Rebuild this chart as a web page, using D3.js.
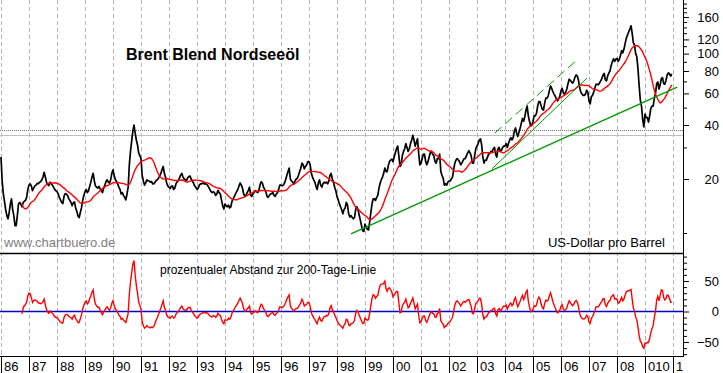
<!DOCTYPE html>
<html>
<head>
<meta charset="utf-8">
<script src="https://cdn.jsdelivr.net/npm/d3@7"></script>
<style>
  body { margin: 0; background: #fff; }
  svg { display: block; font-family: "Liberation Sans", Arial, sans-serif; }
</style>
</head>
<body>
<div id="chart"></div>
<script>
// Brent, US$ per barrel, two readings per month (1st / 2nd half)
const p86 = [26.5, 19.5, 16.5, 15, 13.5, 12.5, 12, 13, 14.5, 15.5, 13.5, 12.5, 11, 11, 12.5, 14.5, 14.8, 14.5, 14, 14.8, 15, 15.2, 15.8, 17.5];
const p87 = [18.5, 18.8, 18.3, 17.2, 17.8, 18.3, 18.5, 18.9, 18.8, 19.2, 19.3, 19.8, 20.5, 21.8, 20.5, 19.2, 18.6, 18.4, 19.2, 18.8, 18.5, 18, 17.5, 17.2];
const p88 = [17, 16.5, 15.8, 15.3, 14.8, 14.6, 16, 16.6, 16.5, 16.2, 15.6, 15.2, 14.8, 14.2, 14.8, 14.9, 13.8, 13.2, 12.4, 12.2, 13, 13.8, 15.2, 16.2];
const p89 = [17, 17.5, 16.8, 17.2, 18.2, 19.2, 20.5, 21.5, 19.5, 18.3, 18, 17.8, 18.2, 17.6, 17.2, 16.8, 17.8, 18.5, 19.3, 19.8, 19.2, 19, 19.8, 21.5];
const p90 = [22.5, 21, 19.8, 19.4, 18.8, 18, 17.5, 16.5, 16.8, 16.2, 15.8, 15.3, 16.5, 18, 24, 28.5, 32.5, 37, 40, 36, 33, 31, 28, 27];
const p91 = [26, 21, 19.5, 18.5, 19, 19.8, 19.5, 19.5, 19.2, 19.4, 18.8, 18.8, 19.2, 19.6, 19.8, 20.2, 20.8, 21.5, 22.5, 23.5, 21.5, 20.5, 19, 18.3];
const p92 = [18, 17.7, 18.2, 18.3, 17.5, 17.8, 18.8, 19.3, 19.6, 20.3, 21, 21.5, 20.5, 20, 19.8, 19.6, 20.3, 20.6, 20.8, 20, 19.5, 19, 18.3, 18];
const p93 = [17.5, 17.8, 18.5, 18.8, 18.8, 19, 18.8, 18.8, 18.7, 18.5, 18, 17.5, 17, 16.8, 17, 16.8, 16.2, 16.5, 17.3, 16.8, 16.5, 15.3, 14.2, 13.6];
const p94 = [14.5, 14.2, 14, 14.3, 13.8, 14, 15, 15.5, 16, 16.5, 17, 17.5, 18.3, 19, 18.5, 17.8, 16.5, 16, 16.2, 16.8, 17.3, 18, 16.3, 16];
const p95 = [16.5, 16.8, 17.2, 17, 16.8, 17.2, 18.5, 19.3, 19, 18, 17.5, 17, 16, 15.8, 16.2, 16.5, 16.6, 16.8, 16.2, 16, 16.5, 16.8, 17.5, 18.5];
const p96 = [18.5, 18.3, 18.5, 19, 19.8, 21, 22, 23, 20, 19.5, 19.2, 18.8, 19.5, 20, 20.2, 21, 22, 23, 24.5, 24, 22.8, 23.5, 24, 25];
const p97 = [25, 24, 21.5, 20.5, 19.8, 19.2, 18.2, 17.5, 19, 19.8, 18.5, 18, 18.8, 19.2, 19, 19.2, 18.8, 19.5, 21, 21.5, 20, 19.2, 18, 17.2];
const p98 = [16, 15.3, 14.6, 14, 13.5, 12.8, 13.5, 13.8, 14.8, 14.3, 12.8, 12.3, 12.5, 12.2, 12, 12.2, 13.5, 14, 13.5, 12.6, 11.8, 11, 10.3, 10.2];
const p99 = [11.2, 10.8, 10.5, 10.4, 11.5, 13, 14.5, 15.5, 15.5, 15.2, 15.8, 16.2, 17.8, 19, 19.8, 20.5, 21.5, 23, 22, 22, 23.8, 25, 25.5, 25.8];
const p00 = [25, 26.5, 28, 29.5, 30.5, 27, 23.5, 24, 27, 28.5, 29.5, 31.5, 30, 28.5, 29.5, 31.5, 33, 35, 33, 30.5, 32, 33.5, 28, 24];
const p01 = [24.5, 26, 27.5, 27.5, 25, 24, 25, 26.5, 28, 28.5, 27.5, 27, 25, 24.5, 26, 26, 27.5, 22, 21, 20.2, 18.5, 18.8, 18.5, 19.2];
const p02 = [19.5, 19.5, 20, 20.5, 22.5, 24.5, 25.5, 26, 25.5, 25, 24, 24.5, 25.3, 26, 26, 27, 28, 28.8, 28, 27, 24.5, 24.5, 27, 29.5];
const p03 = [30.5, 31.5, 33, 33.5, 31, 26.5, 24.5, 25.5, 25.5, 26.5, 27.5, 27.8, 28.5, 28.5, 29.5, 30, 27.5, 26.5, 29.5, 30, 28.5, 29, 30, 30.5];
const p04 = [30.5, 31.5, 30, 31.5, 33, 34, 33, 34, 37, 38.5, 36, 34.5, 36.5, 38.5, 41, 43.5, 42, 44.5, 48.5, 51, 45, 42, 39.5, 40];
const p05 = [42, 45, 45, 46.5, 51, 54, 54, 51, 49, 48.5, 53, 56.5, 56.5, 58, 62, 66, 64, 61.5, 59.5, 58, 56, 54.5, 56, 58];
const p06 = [62, 64, 60.5, 59.5, 61, 63.5, 68, 72, 71, 69.5, 68.5, 70.5, 74, 76, 75, 71, 64.5, 61, 59.5, 58.5, 58.5, 59.5, 62.5, 61];
const p07 = [54.5, 52.5, 57.5, 58.5, 61, 64, 67.5, 67.5, 67, 68.5, 70.5, 72.5, 76, 77.5, 71.5, 70.5, 75, 78, 80, 86, 90, 93.5, 90.5, 93];
const p08 = [94, 90.5, 93, 98, 104, 101, 106, 114, 122, 127, 132, 137, 143, 130, 115, 112, 100, 96, 82, 66, 55, 51, 43, 39];
const p09 = [46, 44, 44, 41.5, 45, 49.5, 51, 51, 56.5, 60, 68, 69.5, 63.5, 67, 72.5, 73.5, 68, 67.5, 71, 76, 78, 77, 75, 77];
const priceRows = [p86, p87, p88, p89, p90, p91, p92, p93, p94, p95, p96, p97, p98, p99, p00, p01, p02, p03, p04, p05, p06, p07, p08, p09];

const startYear = 1986;
const maSteps = 19; // about 200 trading days in half-month steps

const gridYears = d3.range(1986, 2011);
const yearLabels = ['86', '87', '88', '89', '90', '91', '92', '93', '94', '95', '96', '97', '98', '99', '00', '01', '02', '03', '04', '05', '06', '07', '08', '010', '1'];
const priceTicks = [20, 40, 60, 80, 100, 120, 160];
const priceMinor = [10, 30, 50, 70, 90, 110, 130, 140, 150, 170, 180, 190];
const oscTicks = [-50, 0, 50];
const oscMinor = [-70, -60, -40, -30, -20, -10, 10, 20, 30, 40, 60, 70, 80, 90];
const refLines = [37.4, 35.4];
const trendLong = [[1998.5, 9.9], [2010.15, 65]];
const channelLow = [[2003.54, 22.8], [2006.93, 73.1]];
const channelHigh = [[2003.64, 36.1], [2006.57, 92.1]];

const width = 723, height = 373;
const plotRight = 683;
const mainBottom = 253;
const lowTop = 253, lowBottom = 356;

// series + 200-day line + percent distance
const series = [];
priceRows.forEach((row, yi) => {
    row.forEach((v, i) => series.push({ t: startYear + yi + i / 24, v: v }));
});
series.forEach((d, i) => {
    if (i >= maSteps - 1) {
        d.ma = d3.mean(series.slice(i - maSteps + 1, i + 1), (s) => s.v);
        d.osc = (d.v / d.ma - 1) * 100;
    }
});
const maSeries = series.filter((d) => d.ma !== undefined);

let x = d3.scaleLinear().domain([1986, 2010]).range([1, 673]);
let y = d3.scaleLog().domain([10, 160]).range([233, 17]);
let yo = d3.scaleLinear().domain([-50, 50]).range([342, 281]);

let svg = d3
    .select('#chart')
    .append('svg')
    .attr('width', width)
    .attr('height', height);

let defs = svg.append('defs');
defs.append('clipPath').attr('id', 'clipMain')
    .append('rect').attr('x', 0).attr('y', 0).attr('width', plotRight).attr('height', mainBottom);
defs.append('clipPath').attr('id', 'clipLow')
    .append('rect').attr('x', 0).attr('y', lowTop).attr('width', plotRight).attr('height', lowBottom - lowTop);

// vertical year grid, both panels
svg.append('g')
    .selectAll('line')
    .data(gridYears)
    .enter()
    .append('line')
    .attr('x1', (d) => x(d) + 0.5)
    .attr('x2', (d) => x(d) + 0.5)
    .attr('y1', 0)
    .attr('y2', lowBottom)
    .attr('stroke', '#b4b4b4')
    .attr('stroke-dasharray', '4,3');

// horizontal marks at the 1990 high
svg.append('line')
    .attr('x1', 0).attr('x2', plotRight)
    .attr('y1', Math.round(y(refLines[0])) + 0.5).attr('y2', Math.round(y(refLines[0])) + 0.5)
    .attr('stroke', '#707070')
    .attr('stroke-dasharray', '1,1');
svg.append('line')
    .attr('x1', 0).attr('x2', plotRight)
    .attr('y1', Math.round(y(refLines[1])) + 0.5).attr('y2', Math.round(y(refLines[1])) + 0.5)
    .attr('stroke', '#c0c0c0');

let main = svg.append('g').attr('clip-path', 'url(#clipMain)');

let priceLine = d3.line().x((d) => x(d.t)).y((d) => y(d.v));
let maLine = d3.line().x((d) => x(d.t)).y((d) => y(d.ma));
let segLine = d3.line().x((d) => x(d[0])).y((d) => y(d[1]));

main.append('path')
    .datum(series)
    .attr('d', priceLine)
    .attr('fill', 'none')
    .attr('stroke', '#000')
    .attr('stroke-width', 1.7)
    .attr('stroke-linejoin', 'round');

main.append('path')
    .datum(maSeries)
    .attr('d', maLine)
    .attr('fill', 'none')
    .attr('stroke', '#ff0000')
    .attr('stroke-width', 1.4);

main.append('path').datum(trendLong).attr('d', segLine)
    .attr('fill', 'none').attr('stroke', '#009900').attr('stroke-width', 1.3);
main.append('path').datum(channelLow).attr('d', segLine)
    .attr('fill', 'none').attr('stroke', '#009900').attr('stroke-width', 1);
main.append('path').datum(channelHigh).attr('d', segLine)
    .attr('fill', 'none').attr('stroke', '#009900').attr('stroke-width', 1)
    .attr('stroke-dasharray', '9,5');

// lower panel: percent distance to the 200-day line
let low = svg.append('g').attr('clip-path', 'url(#clipLow)');
low.append('line')
    .attr('x1', 0).attr('x2', plotRight)
    .attr('y1', yo(0)).attr('y2', yo(0))
    .attr('stroke', '#0000cc')
    .attr('stroke-width', 1.4);
low.append('path')
    .datum(maSeries)
    .attr('d', d3.line().x((d) => x(d.t)).y((d) => yo(d.osc)))
    .attr('fill', 'none')
    .attr('stroke', '#ff0000')
    .attr('stroke-width', 1.4);

// frame lines
svg.append('line').attr('x1', 0).attr('x2', plotRight)
    .attr('y1', mainBottom + 0.5).attr('y2', mainBottom + 0.5).attr('stroke', '#000').attr('stroke-width', 1.5);
svg.append('line').attr('x1', 0).attr('x2', plotRight)
    .attr('y1', lowBottom + 0.5).attr('y2', lowBottom + 0.5).attr('stroke', '#000');

// right axes
function rightAxis(scale, major, minor, y0, y1) {
    let g = svg.append('g').attr('transform', 'translate(' + plotRight + ',0)');
    g.append('line').attr('x1', 0.5).attr('x2', 0.5).attr('y1', y0).attr('y2', y1).attr('stroke', '#000');
    g.call(d3.axisRight(scale).tickValues(minor).tickSize(4).tickFormat(''))
        .call((s) => s.select('.domain').remove());
    let g2 = svg.append('g').attr('transform', 'translate(' + plotRight + ',0)');
    g2.call(d3.axisRight(scale).tickValues(major).tickSize(6))
        .call((s) => s.select('.domain').remove());
    g2.selectAll('text')
        .attr('x', 36)
        .style('text-anchor', 'end')
        .style('font-size', '13px')
        .style('font-family', '"Liberation Sans", Arial, sans-serif');
    svg.selectAll('.tick line').attr('stroke', '#000');
}
rightAxis(y, priceTicks, priceMinor, 0, mainBottom);
rightAxis(yo, oscTicks, oscMinor, lowTop, lowBottom + 1);

// year ticks and labels
let xa = svg.append('g').attr('transform', 'translate(0,' + (lowBottom + 1) + ')');
xa.selectAll('line')
    .data(gridYears)
    .enter()
    .append('line')
    .attr('x1', (d) => x(d) + 0.5)
    .attr('x2', (d) => x(d) + 0.5)
    .attr('y1', 0)
    .attr('y2', height - lowBottom)
    .attr('stroke', '#000');
xa.selectAll('text')
    .data(gridYears)
    .enter()
    .append('text')
    .attr('x', (d) => x(d) + 3)
    .attr('y', 14)
    .style('font-size', '13px')
    .text((d, i) => yearLabels[i]);

// titles
svg.append('text')
    .attr('x', 126)
    .attr('y', 60)
    .style('font-size', '16px')
    .style('font-weight', 'bold')
    .text('Brent Blend Nordseeöl');

svg.append('text')
    .attr('x', 4)
    .attr('y', 247)
    .style('font-size', '13px')
    .attr('fill', '#808080')
    .text('www.chartbuero.de');

svg.append('text')
    .attr('x', 665)
    .attr('y', 247)
    .style('font-size', '13px')
    .style('text-anchor', 'end')
    .text('US-Dollar pro Barrel');

svg.append('text')
    .attr('x', 160)
    .attr('y', 274)
    .style('font-size', '12px')
    .text('prozentualer Abstand zur 200-Tage-Linie');
</script>
</body>
</html>
